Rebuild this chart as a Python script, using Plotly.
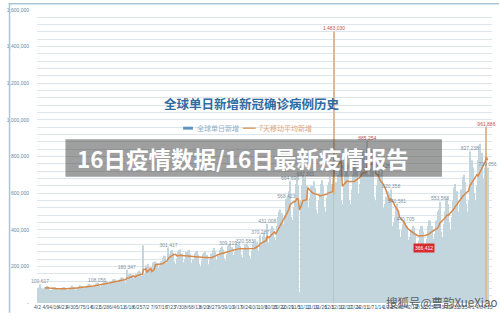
import pandas as pd
import plotly.graph_objects as go

# ---------------- data ----------------
start_date = "2020-04-02"
# daily new global cases, thousands, one row per week (Thu..Wed)
daily_k = [
    79, 85, 100.617, 82, 70, 76, 83,
    88, 93, 88, 74, 71, 73, 76,
    84, 86, 82, 70, 68, 72, 80,
    86, 88, 83, 72, 68, 72, 79,
    88, 95, 88, 76, 72, 78, 82,
    92, 97, 92, 80, 74, 82, 88,
    100, 104, 100, 88, 82, 90, 98,
    106, 108.056, 110, 96, 90, 99, 106,
    117, 120, 118, 104, 98, 107, 118,
    128, 131, 128, 112, 106, 118, 130,
    138, 141, 138, 120, 112, 180.347, 118,
    155, 160, 156, 136, 128, 142, 160,
    170, 176, 170, 148, 138, 315, 160,
    205, 45, 215, 196, 182, 200, 220,
    222, 228, 220, 192, 185, 205, 228,
    245, 258, 255, 220, 212, 301.417, 265,
    285, 290, 275, 228, 215, 245, 280,
    290, 292, 270, 222, 210, 240, 278,
    285, 290, 268, 220, 205, 238, 272,
    282, 285, 265, 215, 200, 232, 268,
    275, 280, 262, 212, 198, 235, 270,
    290, 300, 285, 235, 222, 258, 290,
    300, 308, 292, 245, 232, 268, 309.219,
    318, 325, 305, 262, 248, 280, 322,
    322, 330, 310, 262, 250, 290, 320.583,
    315, 325, 310, 260, 245, 285, 325,
    338, 350, 335, 285, 270, 370.287, 332,
    365, 385, 360, 300, 431.008, 330, 362,
    405, 420, 410, 360, 345, 420, 470,
    500, 510, 490, 430, 415, 480, 568.423,
    580, 610, 664.696, 470, 455, 520, 560,
    650, 675, 640, 60, 560, 640, 700,
    655, 687.301, 640, 520, 505, 575, 640,
    640, 665, 630, 510, 490, 560, 600,
    650, 670, 640, 525, 500, 575, 640,
    660, 690, 650, 540, 1483.030, 590, 660,
    700, 690, 726.430, 560, 540, 640, 700,
    740, 760, 700, 560, 540, 620, 700,
    760, 800, 740, 600, 560, 650, 790,
    830, 820, 720, 640, 885.254, 700, 700,
    840, 830, 760, 580, 560, 640, 700,
    720, 700, 730.125, 520, 480, 540, 580,
    610, 600, 560, 620.358, 420, 440, 470,
    520, 540.581, 500, 400, 360, 400, 430,
    450, 440.705, 420, 345, 320, 360, 400,
    420, 410, 380, 320, 290, 340, 400,
    420, 420, 390, 320, 300, 350, 420,
    450, 450, 420, 350, 320, 380, 450,
    500, 510, 553.568, 390, 360, 430, 500,
    560, 570, 540, 440, 400, 470, 560,
    630, 650, 610, 500, 460, 540, 620,
    690, 700, 660, 540, 500, 560, 827.238,
    760, 780, 740, 600, 560, 640, 780,
    860, 870, 820, 680, 650, 740, 961.886,
    739.056,
]
label_days = [2, 50, 75, 110, 160, 174, 187, 193, 209, 212, 225, 249, 254,
              277, 289, 297, 302, 309, 338, 363, 377, 378]
red_label_days = [249, 277, 377]
highlight_bar_days = [249, 377]
min_label_day = 325
min_label_text = "366,412"

y_tick_values = list(range(0, 1600001, 40000))
y_tick_labels = ["-" if v == 0 else (f"{v:,}" if v % 200000 == 0 else "") for v in y_tick_values]

title_text = "全球单日新增新冠确诊病例历史"
legend_bar_text = "全球单日新增"
legend_line_text = "7天移动平均新增"
banner_text = "16日疫情数据/16日最新疫情报告"
watermark_text = "搜狐号@曹韵XueXiao"

# ---------------- derived ----------------
dates = pd.date_range(start_date, periods=len(daily_k), freq="D")
values = [int(round(v * 1000)) for v in daily_k]
series = pd.Series(values, index=dates)
ma7 = series.rolling(7).mean()

BAR = "#c3d6de"
BAR_HI = "#d9bc98"
ORANGE = "#d7894a"
bar_colors = [BAR_HI if i in highlight_bar_days else BAR for i in range(len(values))]

W, H = 500, 317
L, R, T, B = 29, 7, 7, 10
PW, PH = W - L - R, H - T - B


def px(x):
    return (x - L) / PW


def py(y):
    return (H - B - y) / PH


fig = go.Figure()
fig.add_trace(go.Bar(x=dates, y=values, marker=dict(color=bar_colors, line=dict(width=0)),
                     showlegend=False, hoverinfo="skip"))
fig.add_trace(go.Scatter(x=dates, y=ma7, mode="lines", line=dict(color=ORANGE, width=1.5),
                         showlegend=False, hoverinfo="skip"))
fig.add_trace(go.Scatter(
    x=[dates[d] for d in label_days], y=[values[d] for d in label_days],
    text=[f"{values[d]:,}" for d in label_days], mode="text", textposition="top center",
    textfont=dict(size=5, family="Liberation Sans",
                  color=["#c4534f" if d in red_label_days else "#7f93a3" for d in label_days]),
    cliponaxis=False, showlegend=False, hoverinfo="skip"))

fig.update_layout(
    width=W, height=H, margin=dict(l=L, r=R, t=T, b=B),
    paper_bgcolor="white", plot_bgcolor="white", bargap=0.12,
    xaxis=dict(type="date", range=["2020-04-01 13:00", "2021-04-18 16:48"],
               tick0=start_date, dtick=7 * 86400000, tickformat="%-m/%-d", tickangle=0,
               showgrid=False, zeroline=False, showline=False, ticks="", ticklen=0,
               tickfont=dict(size=5, color="#3f5b72", family="Liberation Sans")),
    yaxis=dict(range=[0, 1600000], tickvals=y_tick_values, ticktext=y_tick_labels,
               showgrid=True, gridcolor="#dce6eb", gridwidth=1, zeroline=False, showline=False,
               ticks="outside", ticklen=6, tickcolor="rgba(0,0,0,0)",
               tickfont=dict(size=5, color="#6688a4", family="Liberation Sans")),
    shapes=[
        dict(type="line", xref="paper", yref="paper", x0=px(1), x1=px(1), y0=py(0), y1=py(H),
             line=dict(color="#a9c7d6", width=1.5)),
        dict(type="line", xref="paper", yref="paper", x0=px(0), x1=px(W), y0=py(0.7), y1=py(0.7),
             line=dict(color="#a9c7d6", width=1.5)),
        dict(type="rect", xref="paper", yref="paper", x0=px(178), x1=px(188), y0=py(129.5), y1=py(126.5),
             fillcolor="#5f93c0", line=dict(width=0)),
        dict(type="line", xref="paper", yref="paper", x0=px(239), x1=px(252), y0=py(128), y1=py(128),
             line=dict(color=ORANGE, width=1.2)),
        dict(type="rect", xref="paper", yref="paper", x0=px(58), x1=px(442), y0=py(177.7), y1=py(139.3),
             fillcolor="rgba(70,70,70,0.52)", line=dict(width=0), layer="above"),
    ],
    annotations=[
        dict(text=f"<b>{title_text}</b>", xref="paper", yref="paper", x=px(248), y=py(102.5), showarrow=False,
             font=dict(size=12.5, color="#2f6b9e", family="Noto Sans CJK SC"), xanchor="center", yanchor="middle"),
        dict(text=legend_bar_text, xref="paper", yref="paper", x=px(190), y=py(128), showarrow=False,
             font=dict(size=7, color="#8fb2ca", family="Noto Sans CJK SC"), xanchor="left", yanchor="middle"),
        dict(text=legend_line_text, xref="paper", yref="paper", x=px(253), y=py(128), showarrow=False,
             font=dict(size=7, color="#e0a57a", family="Noto Sans CJK SC"), xanchor="left", yanchor="middle"),
        dict(text=f"<b>{banner_text}</b>", xref="paper", yref="paper", x=px(239), y=py(158.5), showarrow=False,
             font=dict(size=22.5, color="white", family="Noto Sans CJK SC"), xanchor="center", yanchor="middle"),
        dict(text=min_label_text, x=dates[min_label_day], y=ma7.iloc[min_label_day], yshift=-12,
             showarrow=False, bgcolor="#d92a2c", borderpad=1,
             font=dict(size=5, color="white", family="Liberation Sans")),
        dict(text=watermark_text, xref="paper", yref="paper", x=px(441), y=py(306), showarrow=False,
             font=dict(size=11.5, color="#5e5e5e", family="Noto Sans CJK SC"), xanchor="center", yanchor="middle"),
    ],
)

fig.write_html("out.html")
